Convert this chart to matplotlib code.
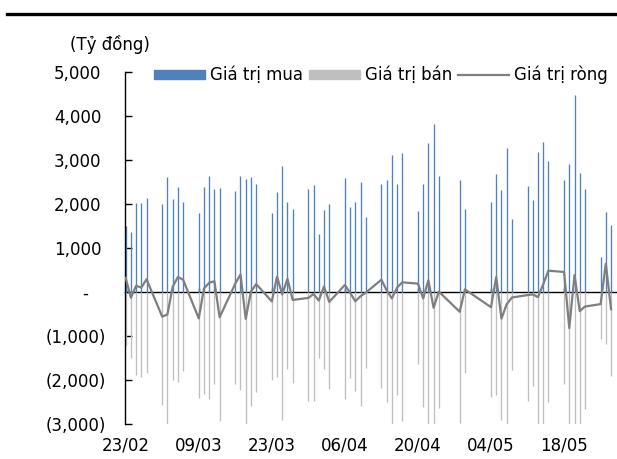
import matplotlib
matplotlib.use('Agg')
import matplotlib.pyplot as plt
import matplotlib.dates as mdates
import matplotlib.transforms as mtransforms
from matplotlib.patches import Patch
from matplotlib.lines import Line2D
from matplotlib.ticker import FuncFormatter, FixedLocator
import pandas as pd

plt.rcParams['font.family'] = ['DejaVu Sans']
plt.rcParams['font.size'] = 12

# trading days (dd/mm, 2026)
days = ['23/02', '24/02', '25/02', '26/02', '27/02',
        '02/03', '03/03', '04/03', '05/03', '06/03',
        '09/03', '10/03', '11/03', '12/03', '13/03',
        '16/03', '17/03', '18/03', '19/03', '20/03',
        '23/03', '24/03', '25/03', '26/03', '27/03',
        '30/03', '31/03', '01/04', '02/04', '03/04',
        '06/04', '07/04', '08/04', '09/04', '10/04',
        '13/04', '14/04', '15/04', '16/04', '17/04',
        '20/04', '21/04', '22/04', '23/04', '24/04',
        '28/04', '29/04',
        '04/05', '05/05', '06/05', '07/05', '08/05',
        '11/05', '12/05', '13/05', '14/05', '15/05',
        '18/05', '19/05', '20/05', '21/05', '22/05',
        '25/05', '26/05', '27/05']

# Giá trị mua (ty dong)
buy = [1510, 1365, 2030, 2030, 2130,
       2000, 2620, 2115, 2390, 2055,
       1800, 2380, 2635, 2335, 2360,
       2290, 2635, 2575, 2605, 2445,
       1785, 2280, 2865, 2055, 1895,
       2345, 2435, 1315, 1870, 1990,
       2585, 1940, 2040, 2505, 1710,
       2460, 2540, 3115, 2445, 3160,
       1830, 2465, 3380, 3815, 2640,
       2535, 1895,
       2040, 2685, 2315, 3275, 1650,
       2405, 2085, 3185, 3405, 2975,
       2555, 2900, 4475, 2695, 2335,
       795, 1825, 1520]

# Giá trị bán (negative)
sell = [-1195, -1500, -1885, -1940, -1845,
        -2570, -3130, -2010, -2050, -1790,
        -2410, -2310, -2430, -2090, -2935,
        -2100, -2235, -3180, -2595, -2265,
        -2000, -1930, -2920, -1755, -2075,
        -2480, -2480, -1510, -1745, -2215,
        -2425, -1955, -2250, -2600, -1725,
        -2180, -2500, -3260, -2345, -2940,
        -1640, -2610, -3115, -4175, -2630,
        -2985, -1835,
        -2385, -2345, -2920, -3555, -1775,
        -2475, -2140, -3300, -3230, -2490,
        -2100, -3720, -4090, -3130, -2665,
        -1070, -1180, -1910]

# Giá trị ròng
net = [320, -130, 140, 100, 290,
       -560, -510, 120, 340, 280,
       -600, 80, 210, 245, -575,
       190, 400, -610, 10, 180,
       -215, 350, -55, 300, -180,
       -135, -45, -195, 125, -225,
       160, -15, -210, -95, -15,
       280, 40, -145, 100, 220,
       190, -145, 265, -360, 10,
       -450, 60,
       -345, 340, -605, -280, -125,
       -70, -55, -115, 175, 485,
       455, -820, 385, -435, -330,
       -275, 645, -390]

tick_days = ['23/02', '09/03', '23/03', '06/04', '20/04', '04/05', '18/05']

dates = pd.to_datetime([d + '/2026' for d in days], format='%d/%m/%Y')
ticks = pd.to_datetime([d + '/2026' for d in tick_days], format='%d/%m/%Y')

blue = '#4F81BD'
grey = '#BFBFBF'
line_c = '#7F7F7F'

fig = plt.figure(figsize=(6.17, 4.59), dpi=100)
ax = fig.add_axes([125 / 617, 35 / 459, 491 / 617, 352 / 459])

# thin columns, drawn as vertical lines so every one keeps the same width
xd = mdates.date2num(dates)
ax.vlines(xd, 0, buy, color=blue, lw=0.95)
ax.vlines(xd, 0, sell, color=grey, lw=0.95)
ax.plot(xd, net, color=line_c, lw=1.6, zorder=3)

ax.set_xlim(xd[0] - 0.13, xd[-1] + 0.95)
ax.set_ylim(-3000, 5000)


def yfmt(v, pos):
    if v == 0:
        return '-'
    if v < 0:
        return '({:,.0f})'.format(-v)
    return '{:,.0f}'.format(v)


ax.yaxis.set_major_locator(FixedLocator(range(-3000, 5001, 1000)))
ax.yaxis.set_major_formatter(FuncFormatter(yfmt))
ax.tick_params(axis='y', direction='in', length=5, width=1, pad=14, colors='black')

ax.xaxis.set_major_locator(FixedLocator(mdates.date2num(ticks)))
ax.xaxis.set_major_formatter(mdates.DateFormatter('%d/%m'))
ax.tick_params(axis='x', length=0, pad=9)

for s in ['top', 'right', 'bottom']:
    ax.spines[s].set_visible(False)
ax.spines['left'].set_linewidth(1)

# zero axis line with the date ticks
sec = ax.secondary_xaxis(3 / 8)
sec.xaxis.set_major_locator(FixedLocator(mdates.date2num(ticks)))
sec.tick_params(direction='in', length=3, width=1, labelbottom=False, labeltop=False)
sec.spines['bottom'].set_linewidth(1)
sec.spines['bottom'].set_color('black')

# accounting style alignment of labels
fig.canvas.draw()
for v, lab in zip(range(-3000, 5001, 1000), ax.get_yticklabels()):
    if v == 0:
        dx = -17
    elif v > 0:
        dx = -4
    else:
        dx = 0
    if dx:
        lab.set_transform(lab.get_transform() +
                          mtransforms.ScaledTranslation(dx / 100, 0, fig.dpi_scale_trans))

handles = [Patch(color=blue), Patch(color=grey), Line2D([], [], color=line_c, lw=1.6)]
fig.legend(handles, ['Giá trị mua', 'Giá trị bán', 'Giá trị ròng'],
           loc='center', bbox_to_anchor=(381 / 617, 1 - 75 / 459), ncol=3,
           frameon=False, handlelength=3.05, handleheight=0.5, handletextpad=0.3,
           columnspacing=0.35, borderpad=0, borderaxespad=0, fontsize=12)

fig.text(70 / 617, 1 - 45 / 459, '(Tỷ đồng)', ha='left', va='center', fontsize=12)
fig.add_artist(Line2D([7 / 617, 1.0], [1 - 14 / 459, 1 - 14 / 459],
                      transform=fig.transFigure, color='black', lw=2.4))

fig.savefig('out.png', dpi=100)
